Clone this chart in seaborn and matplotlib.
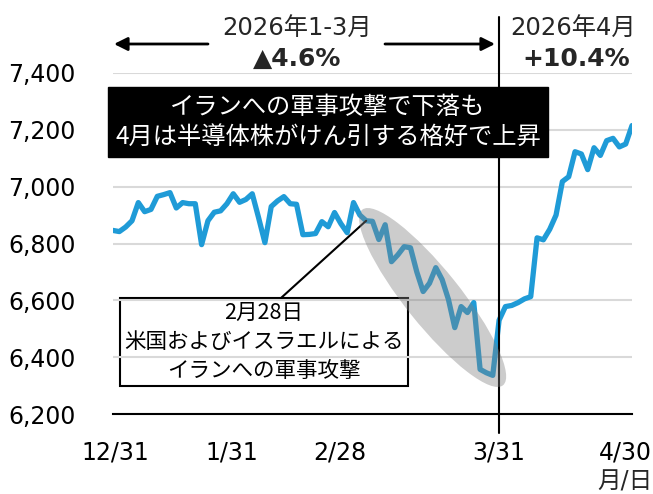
import numpy as np
import pandas as pd
import matplotlib
matplotlib.use("Agg")
import matplotlib.pyplot as plt
import seaborn as sns
from matplotlib.patches import Ellipse
from matplotlib.transforms import IdentityTransform

# S&P500 daily close, 12/31 .. 4/30 (trading days)
sp500 = [6846, 6842, 6858, 6880, 6944, 6912, 6920, 6966, 6972, 6979,
         6925, 6944, 6940, 6940, 6796, 6880, 6910, 6915, 6940, 6975,
         6945, 6955, 6975, 6891, 6803, 6930, 6950, 6965, 6940, 6938,
         6831, 6832, 6835, 6877, 6859, 6909, 6870, 6838, 6944, 6900,
         6880, 6878, 6814, 6866, 6736, 6760, 6789, 6785, 6700, 6631,
         6660, 6715, 6673, 6603, 6504, 6578, 6557, 6592, 6357, 6345,
         6336, 6530, 6578, 6582, 6592, 6605, 6613, 6820, 6813, 6850,
         6900, 7018, 7035, 7123, 7115, 7060, 7137, 7110, 7162, 7170,
         7140, 7150, 7215]
tick_labels = ['12/31', '1/31', '2/28', '3/31', '4/30']
tick_pos = [0.3, 18.8, 35.9, 61, 80.9]
y_ticks = [6200, 6400, 6600, 6800, 7000, 7200, 7400]
attack_day = 40
q1_chg = '▲4.6%'
apr_chg = '+10.4%'

df = pd.DataFrame({'day': np.arange(len(sp500)), 'close': sp500})

sns.set_theme(style='white')
plt.rcParams['font.family'] = ['DejaVu Sans', 'Noto Sans CJK JP']

W, H = 653, 494
fx = lambda p: p / W
fy = lambda p: 1 - p / H
jp = ['Noto Sans CJK JP', 'DejaVu Sans']

fig = plt.figure(figsize=(W / 100, H / 100), dpi=100)
ax = fig.add_axes([fx(113), 80 / H, 519 / W, 341 / H])

sns.lineplot(data=df, x='day', y='close', ax=ax, color='#1f9bd7', lw=3.8, zorder=3)

ax.set_xlim(0, 82)
ax.set_ylim(6200, 7400)
ax.set_yticks(y_ticks)
ax.set_yticklabels([f'{v:,}' for v in y_ticks])
ax.set_xticks(tick_pos)
ax.set_xticklabels(tick_labels)
ax.set_xlabel('')
ax.set_ylabel('')
ax.yaxis.grid(True, color='#d9d9d9', lw=1.5)
ax.xaxis.grid(False)
ax.set_axisbelow(True)
for s in ['top', 'right', 'left']:
    ax.spines[s].set_visible(False)
ax.spines['bottom'].set_color('black')
ax.spines['bottom'].set_linewidth(1.5)
ax.tick_params(axis='y', length=0, labelsize=17, pad=27, colors='black')
ax.tick_params(axis='x', length=0, labelsize=17, pad=19, colors='black')

# 3/31 divider
ax.axvline(61, ymin=-0.055, ymax=1.165, color='black', lw=1.5, clip_on=False, zorder=4)

# period labels
fig.text(fx(297), fy(29), '2026年1-3月', ha='center', va='center', fontsize=17.5)
fig.text(fx(297), fy(59), q1_chg, ha='center', va='center', fontsize=18, fontweight='bold')
fig.text(fx(573), fy(29), '2026年4月', ha='center', va='center', fontsize=17.5)
fig.text(fx(576), fy(59), apr_chg, ha='center', va='center', fontsize=18, fontweight='bold')
arrow = dict(arrowstyle='-|>', lw=2, color='black', mutation_scale=20, shrinkA=0, shrinkB=0)
ax.annotate('', xy=(fx(114), fy(44)), xytext=(fx(208), fy(44)),
            xycoords='figure fraction', textcoords='figure fraction', arrowprops=arrow)
ax.annotate('', xy=(fx(495), fy(44)), xytext=(fx(385), fy(44)),
            xycoords='figure fraction', textcoords='figure fraction', arrowprops=arrow)

# black headline box
ax.text(fx(328), fy(122), 'イランへの軍事攻撃で下落も\n4月は半導体株がけん引する格好で上昇',
        transform=fig.transFigure, ha='center', va='center', color='white', fontsize=17.5,
        linespacing=1.2, family=jp, zorder=6,
        bbox=dict(boxstyle='square,pad=0.3', fc='black', ec='black'))

# attack annotation
ax.annotate('', xy=(attack_day, sp500[attack_day]), xytext=(fx(281), fy(298)),
            textcoords='figure fraction',
            arrowprops=dict(arrowstyle='-', lw=1.5, color='black', shrinkA=0, shrinkB=0), zorder=5)
ax.text(fx(264), fy(342), '2月28日\n米国およびイスラエルによる\nイランへの軍事攻撃',
        transform=fig.transFigure, ha='center', va='center', color='black', fontsize=15.5,
        linespacing=1.4, family=jp, zorder=0.4,
        bbox=dict(boxstyle='square,pad=0.2', fc='white', ec='black', lw=1.5))

# shaded selloff zone
cx, cy = ax.transData.transform((50.5, 6610))
ax.add_patch(Ellipse((cx, cy), 225, 55, angle=-51.3, transform=IdentityTransform(),
                     fc='#808080', ec='none', alpha=0.4, zorder=7))

fig.text(fx(625), fy(481), '月/日', ha='center', va='center', fontsize=17)

fig.savefig('out.png', dpi=100)
